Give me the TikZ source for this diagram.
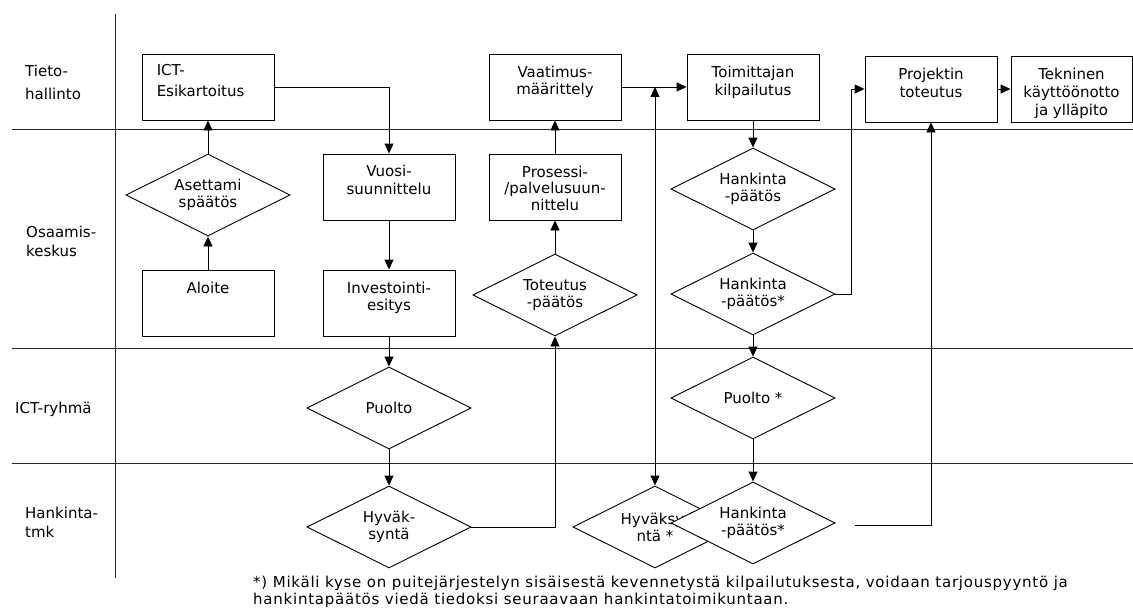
\documentclass[tikz,border=0pt]{standalone}
\usepackage{fontspec}
\setmainfont{DejaVu Sans}
\newfontfamily\fnfont{DejaVu Sans}[LetterSpace=5.0]
\usetikzlibrary{arrows.meta,shapes.geometric}
\begin{document}
\begin{tikzpicture}[x=1pt,y=-1pt,
  every node/.style={font=\fontsize{15}{17}\selectfont},
  lane/.style={line width=1pt, draw=black!85},
  box/.style={draw, line width=0.9pt, minimum width=132pt, minimum height=66pt, inner sep=0pt},
  boxtext/.style={anchor=north, inner sep=0pt, align=center},
  dec/.style={draw, diamond, aspect=2, minimum width=164pt, minimum height=82pt, inner sep=1pt, align=center, line width=0.9pt, fill=white},
  arr/.style={line width=0.9pt, -{Triangle[length=10pt,width=9pt]}},
  darr/.style={line width=0.9pt, {Triangle[length=10pt,width=9pt]}-{Triangle[length=10pt,width=9pt]}},
  lanelbl/.style={anchor=north west, inner sep=0pt, align=left},
]
\useasboundingbox (0,0) rectangle (1133,610);

% swimlane lines
\draw[lane] (115,14) -- (115,578);
\draw[lane] (12,129) -- (1133,129);
\draw[lane] (12,348) -- (1133,348);
\draw[lane] (12,463) -- (1133,463);

% lane labels
\node[lanelbl, font=\fontsize{15}{23}\selectfont] (l1) at (25,65) {Tieto-\\hallinto};
\node[lanelbl, font=\fontsize{15}{18.5}\selectfont] (l2) at (26,226) {Osaamis-\\keskus};
\node[lanelbl] (l3) at (15,402) {ICT-ryhmä};
\node[lanelbl, font=\fontsize{15}{19}\selectfont] (l4) at (25,507) {Hankinta-\\tmk};

% boxes
\node[box] (esik) at (208,87) {};
\node[lanelbl, font=\fontsize{15}{20.5}\selectfont] (esikt) at ([xshift=15pt,yshift=-11pt]esik.north west) {ICT-\\Esikartoitus};
\node[box] (vuosi) at (389,187) {};
\node[boxtext, font=\fontsize{15}{18}\selectfont] (vuosit) at ([yshift=-11pt]vuosi.north) {Vuosi-\\suunnittelu};
\node[box] (aloite) at (208,303) {};
\node[boxtext] (aloitet) at ([yshift=-12pt]aloite.north) {Aloite};
\node[box] (invest) at (389,303) {};
\node[boxtext] (investt) at ([yshift=-12pt]invest.north) {Investointi-\\esitys};
\node[box] (vaat) at (555,87) {};
\node[boxtext] (vaatt) at ([yshift=-12pt]vaat.north) {Vaatimus-\\määrittely};
\node[box] (pros) at (555,187) {};
\node[boxtext, font=\fontsize{15}{16.5}\selectfont] (prost) at ([yshift=-12pt]pros.north) {Prosessi-\\/palvelusuun-\\nittelu};
\node[box] (toim) at (753,87) {};
\node[boxtext, font=\fontsize{15}{18}\selectfont] (toimt) at ([yshift=-12pt]toim.north) {Toimittajan\\kilpailutus};
\node[box] (proj) at (931,89) {};
\node[boxtext, font=\fontsize{15}{18}\selectfont] (projt) at ([yshift=-12pt]proj.north) {Projektin\\toteutus};
\node[box, minimum width=121pt] (tekn) at (1071.5,89) {};
\node[boxtext, font=\fontsize{15}{18}\selectfont] (teknt) at ([yshift=-12pt]tekn.north) {Tekninen\\käyttöönotto\\ja ylläpito};

% decisions
\node[dec] (aset) at (208,195) {Asettami\\späätös};
\node[dec] (tot) at (555,295) {Toteutus\\-päätös};
\node[dec] (hk1) at (753,189) {Hankinta\\-päätös};
\node[dec] (hk2) at (753,294) {Hankinta\\-päätös*};
\node[dec] (puolto) at (389,408) {Puolto};
\node[dec] (puolto2) at (753,398) {Puolto *};
\node[dec] (hyv) at (389,527) {Hyväk-\\syntä};
\node[dec] (hyv2) at (655,527) {Hyväksy-\\ntä *};
\node[dec] (hk3) at (753,523) {Hankinta\\-päätös*};

% connectors
\coordinate (j) at (655,87);
\coordinate (s) at (855,525);
\draw[arr] (aloite.north) -- (aset.south);
\draw[arr] (aset.north) -- (esik.south);
\draw[arr] (esik.east) -| (vuosi.north);
\draw[arr] (vuosi.south) -- (invest.north);
\draw[arr] (invest.south) -- (puolto.north);
\draw[arr] (puolto.south) -- (hyv.north);
\draw[arr] (hyv.east) -| (tot.south);
\draw[arr] (tot.north) -- (pros.south);
\draw[arr] (pros.north) -- (vaat.south);
\draw[arr] (vaat.east) -- (toim.west);
\draw[darr] (j) -- (hyv2.north);
\draw[arr] (toim.south) -- (hk1.north);
\draw[arr] (hk1.south) -- (hk2.north);
\draw[arr] (hk2.south) -- (puolto2.north);
\draw[arr] (puolto2.south) -- (hk3.north);
\draw[arr] (hk2.east) -- ++(16,0) |- (proj.west);
\draw[arr] (s) -| (proj.south);
\draw[arr] (proj.east) -- (tekn.west);

% footnote
\node[lanelbl, font=\fnfont\fontsize{15}{16.5}\selectfont] (fn) at (253,576) {*) Mikäli kyse on puitejärjestelyn sisäisestä kevennetystä kilpailutuksesta, voidaan tarjouspyyntö ja\\hankintapäätös viedä tiedoksi seuraavaan hankintatoimikuntaan.};
\end{tikzpicture}
\end{document}
